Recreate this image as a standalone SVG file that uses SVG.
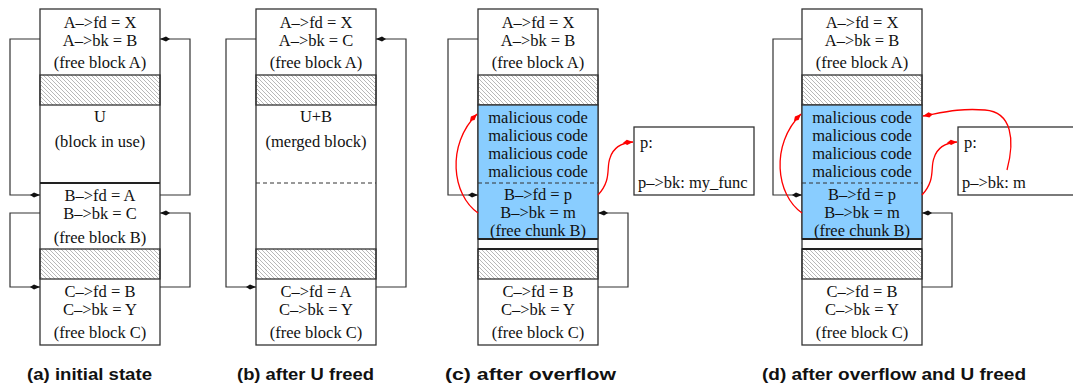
<svg xmlns="http://www.w3.org/2000/svg" width="1073" height="386" viewBox="0 0 1073 386">
  <defs>
    <pattern id="hatch" patternUnits="userSpaceOnUse" width="4" height="4">
      <path d="M-1,-1 L5,5 M-1,3 L1,5 M3,-1 L5,1" stroke="#9a9a9a" stroke-width="0.7"/>
    </pattern>
    <marker id="dart" viewBox="-11 -4 12 8" markerWidth="12" markerHeight="8" refX="0" refY="0" orient="auto" markerUnits="userSpaceOnUse">
      <path d="M0,0 L-6,-2.6 L-10,0 L-6,2.6 Z" fill="#111"/>
    </marker>
    <marker id="dartRed" viewBox="-11 -4 12 8" markerWidth="12" markerHeight="8" refX="0" refY="0" orient="auto" markerUnits="userSpaceOnUse">
      <path d="M0,0 L-6,-2.6 L-10,0 L-6,2.6 Z" fill="#f00"/>
    </marker>
  </defs>
  <style>
    .box { fill: #fff; stroke: #333; stroke-width: 1.3; }
    .hatch { fill: url(#hatch); stroke: #333; stroke-width: 1.3; }
    .mal { fill: #89cdff; stroke: #333; stroke-width: 1.3; }
    .sep { stroke: #222; stroke-width: 2; }
    .dash { stroke: #333; stroke-width: 1; stroke-dasharray: 4 3; }
    .t { font-family: "Liberation Serif", serif; font-size: 16.5px; fill: #111; text-anchor: middle; }
    .tl { font-family: "Liberation Serif", serif; font-size: 16.5px; fill: #111; }
    .cap { font-family: "Liberation Sans", Arial, sans-serif; font-weight: bold; font-size: 17px; fill: #111; }
    .link { fill: none; stroke: #333; stroke-width: 1.2; marker-end: url(#dart); }
    .exploit { fill: none; stroke: #f00; stroke-width: 1.3; marker-end: url(#dartRed); }
  </style>

  <!-- (a) initial state -->
  <g id="panel-a">
    <rect class="box" x="40" y="9" width="120" height="336"/>
    <rect class="hatch" x="40" y="75" width="120" height="30"/>
    <rect class="hatch" x="40" y="249" width="120" height="30"/>
    <line class="sep" x1="40" y1="183" x2="160" y2="183"/>
    <text class="t" x="100" y="28">A–&gt;fd = X</text>
    <text class="t" x="100" y="46">A–&gt;bk = B</text>
    <text class="t" x="100" y="68">(free block A)</text>
    <text class="t" x="100" y="122">U</text>
    <text class="t" x="100" y="147">(block in use)</text>
    <text class="t" x="100" y="201">B–&gt;fd = A</text>
    <text class="t" x="100" y="219">B–&gt;bk = C</text>
    <text class="t" x="100" y="243">(free block B)</text>
    <text class="t" x="100" y="297">C–&gt;fd = B</text>
    <text class="t" x="100" y="315">C–&gt;bk = Y</text>
    <text class="t" x="100" y="338">(free block C)</text>
    <text class="cap" x="27" y="380" textLength="125" lengthAdjust="spacingAndGlyphs">(a) initial state</text>
  </g>

  <!-- (b) after U freed -->
  <g id="panel-b">
    <rect class="box" x="256" y="9" width="120" height="336"/>
    <rect class="hatch" x="256" y="75" width="120" height="30"/>
    <rect class="hatch" x="256" y="249" width="120" height="30"/>
    <line class="dash" x1="256" y1="183" x2="376" y2="183"/>
    <text class="t" x="316" y="28">A–&gt;fd = X</text>
    <text class="t" x="316" y="46">A–&gt;bk = C</text>
    <text class="t" x="316" y="68">(free block A)</text>
    <text class="t" x="316" y="122">U+B</text>
    <text class="t" x="316" y="147">(merged block)</text>
    <text class="t" x="316" y="297">C–&gt;fd = A</text>
    <text class="t" x="316" y="315">C–&gt;bk = Y</text>
    <text class="t" x="316" y="338">(free block C)</text>
    <text class="cap" x="237" y="380" textLength="137" lengthAdjust="spacingAndGlyphs">(b) after U freed</text>
  </g>

  <!-- (c) after overflow -->
  <g id="panel-c">
    <rect class="box" x="478" y="9" width="120" height="336"/>
    <rect class="hatch" x="478" y="75" width="120" height="30"/>
    <rect class="mal" x="478" y="105" width="120" height="134"/>
    <rect class="hatch" x="478" y="249" width="120" height="30"/>
    <line class="sep" x1="478" y1="239" x2="598" y2="239"/>
    <line class="sep" x1="478" y1="249" x2="598" y2="249"/>
    <line class="dash" x1="478" y1="183" x2="598" y2="183"/>
    <text class="t" x="538" y="28">A–&gt;fd = X</text>
    <text class="t" x="538" y="46">A–&gt;bk = B</text>
    <text class="t" x="538" y="68">(free block A)</text>
    <text class="t" x="538" y="123">malicious code</text>
    <text class="t" x="538" y="141">malicious code</text>
    <text class="t" x="538" y="159">malicious code</text>
    <text class="t" x="538" y="177">malicious code</text>
    <text class="t" x="538" y="200">B–&gt;fd = p</text>
    <text class="t" x="538" y="218">B–&gt;bk = m</text>
    <text class="t" x="538" y="236">(free chunk B)</text>
    <text class="t" x="538" y="297">C–&gt;fd = B</text>
    <text class="t" x="538" y="315">C–&gt;bk = Y</text>
    <text class="t" x="538" y="338">(free block C)</text>
    <text class="cap" x="445" y="380" textLength="171" lengthAdjust="spacingAndGlyphs">(c) after overflow</text>
  </g>
  <g id="p-c">
    <rect class="box" x="634" y="127" width="120" height="68"/>
    <text class="tl" x="640" y="148">p:</text>
    <text class="tl" x="638" y="188">p–&gt;bk: my_func</text>
  </g>

  <!-- (d) after overflow and U freed -->
  <g id="panel-d">
    <rect class="box" x="802" y="9" width="120" height="336"/>
    <rect class="hatch" x="802" y="75" width="120" height="30"/>
    <rect class="mal" x="802" y="105" width="120" height="134"/>
    <rect class="hatch" x="802" y="249" width="120" height="30"/>
    <line class="sep" x1="802" y1="239" x2="922" y2="239"/>
    <line class="sep" x1="802" y1="249" x2="922" y2="249"/>
    <line class="dash" x1="802" y1="183" x2="922" y2="183"/>
    <text class="t" x="862" y="28">A–&gt;fd = X</text>
    <text class="t" x="862" y="46">A–&gt;bk = B</text>
    <text class="t" x="862" y="68">(free block A)</text>
    <text class="t" x="862" y="123">malicious code</text>
    <text class="t" x="862" y="141">malicious code</text>
    <text class="t" x="862" y="159">malicious code</text>
    <text class="t" x="862" y="177">malicious code</text>
    <text class="t" x="862" y="200">B–&gt;fd = p</text>
    <text class="t" x="862" y="218">B–&gt;bk = m</text>
    <text class="t" x="862" y="236">(free chunk B)</text>
    <text class="t" x="862" y="297">C–&gt;fd = B</text>
    <text class="t" x="862" y="315">C–&gt;bk = Y</text>
    <text class="t" x="862" y="338">(free block C)</text>
    <text class="cap" x="762" y="380" textLength="264" lengthAdjust="spacingAndGlyphs">(d) after overflow and U freed</text>
  </g>
  <g id="p-d">
    <rect class="box" x="958" y="127" width="130" height="68"/>
    <text class="tl" x="964" y="148">p:</text>
    <text class="tl" x="962" y="188">p–&gt;bk: m</text>
  </g>

  <!-- free-list links and overwritten pointers -->
  <g id="connectors">
    <path class="link" d="M40,39 H10 V195 H40"/>
    <path class="link" d="M160,195 H190 V39 H160"/>
    <path class="link" d="M40,213 H10 V287 H40"/>
    <path class="link" d="M160,287 H190 V213 H160"/>

    <path class="link" d="M256,39 H226 V287 H256"/>
    <path class="link" d="M376,287 H406 V39 H376"/>

    <path class="link" d="M478,39 H448 V195 H478"/>
    <path class="link" d="M598,287 H628 V213 H598"/>
    <path class="exploit" d="M478,213 C452,195 446,145 477,114"/>
    <path class="exploit" d="M598,195 C612,180 606,168 610,158 C613,148 620,143 633,142"/>

    <path class="link" d="M802,39 H773 V195 H802"/>
    <path class="link" d="M922,287 H952 V213 H922"/>
    <path class="exploit" d="M802,213 C776,195 770,145 801,114"/>
    <path class="exploit" d="M922,195 C936,180 930,168 934,158 C937,148 944,143 957,142"/>
    <path class="exploit" d="M1007,170 C1015,140 1012,112 985,110 C960,108 945,112 923,116"/>
  </g>
</svg>
